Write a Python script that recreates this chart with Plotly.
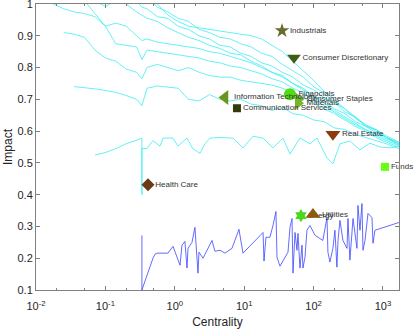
import plotly.graph_objects as go

# --- data --------------------------------------------------------------
# shared centrality grid for the upper cyan curves
centrality_grid = [0.0178, 0.0251, 0.0355, 0.0501, 0.0708, 0.1, 0.141, 0.2, 0.282, 0.336,
                   0.398, 0.562, 0.794, 1.12, 1.58, 2.24, 3.16, 4.47, 6.31, 8.91,
                   12.6, 17.8, 25.1, 35.5, 50.1, 70.8, 100, 141, 200, 282,
                   398, 562, 794, 1122, 1700]

N = None
curve_a = [N, N, N, N, N, N, N, N, N, N,
           1.02, 0.99, 0.975, 0.955, 0.945, 0.92, 0.91, 0.895, 0.89, 0.875,
           0.865, 0.845, 0.835, 0.81, 0.79, 0.77, 0.74, 0.72, 0.69, 0.67,
           0.645, 0.62, 0.605, 0.585, 0.565]
curve_b = [N, N, N, N, N, N, N, N, 1.01, 0.99,
           0.985, 0.96, 0.955, 0.93, 0.92, 0.90, 0.89, 0.87, 0.865, 0.845,
           0.835, 0.815, 0.805, 0.785, 0.77, 0.745, 0.73, 0.705, 0.69, 0.66,
           0.645, 0.615, 0.605, 0.58, 0.56]
curve_c = [N, N, N, N, 1.01, 0.992, 1.01, 1.0, 0.975, 0.965,
           0.955, 0.945, 0.925, 0.91, 0.895, 0.885, 0.87, 0.86, 0.845, 0.84,
           0.82, 0.805, 0.785, 0.775, 0.75, 0.735, 0.71, 0.695, 0.67, 0.655,
           0.63, 0.615, 0.595, 0.58, 0.555]
curve_d = [N, N, N, N, N, N, N, N, N, N,
           N, 1.0, 0.965, 0.945, 0.93, 0.925, 0.92, 0.915, 0.91, 0.905,
           0.9, 0.89, 0.87, 0.85, 0.82, 0.79, 0.76, 0.725, 0.70, 0.67,
           0.64, 0.62, 0.60, 0.58, 0.565]
curve_e = [1.0, 0.985, 0.975, 0.97, 0.96, 0.93, 0.94, 0.93, 0.9, 0.885,
           0.89, 0.88, 0.875, 0.87, 0.865, 0.86, 0.85, 0.845, 0.835, 0.825,
           0.815, 0.80, 0.785, 0.77, 0.75, 0.73, 0.71, 0.69, 0.665, 0.645,
           0.625, 0.605, 0.59, 0.575, 0.56]
curve_f = [N, N, N, 1.01, 0.97, 0.93, 0.875, 0.87, 0.865, 0.825,
           0.855, 0.85, 0.845, 0.84, 0.835, 0.83, 0.82, 0.815, 0.805, 0.80,
           0.79, 0.78, 0.765, 0.755, 0.735, 0.72, 0.70, 0.68, 0.66, 0.64,
           0.62, 0.605, 0.585, 0.57, 0.555]
curve_g = [N, 0.91, 0.905, 0.895, 0.855, 0.83, 0.82, 0.795, 0.785, 0.765,
           0.80, 0.81, 0.80, 0.79, 0.80, 0.785, 0.775, 0.77, 0.77, 0.76,
           0.755, 0.75, 0.745, 0.735, 0.72, 0.705, 0.69, 0.67, 0.655, 0.635,
           0.615, 0.60, 0.58, 0.565, 0.55]
curve_i = [N, N, 0.74, 0.737, 0.733, 0.728, 0.722, 0.712, 0.70, 0.68,
           0.735, 0.742, 0.738, 0.735, 0.70, 0.695, 0.715, 0.70, 0.695, 0.70,
           0.685, 0.68, 0.665, 0.675, 0.655, 0.65, 0.635, 0.63, 0.61, 0.605,
           0.59, 0.58, 0.57, 0.56, 0.545]
upper_curves = [curve_a, curve_b, curve_c, curve_d, curve_e, curve_f, curve_g, curve_i]

# lowest cyan curve
low_x = [0.0708, 0.0987, 0.142, 0.198, 0.285, 0.336, 0.336, 0.336, 0.397, 0.485,
         0.612, 0.676, 0.942, 1.11, 1.50, 1.83, 2.31, 2.72, 3.22, 4.48,
         6.90, 9.62, 13.4, 18.7, 26.0, 36.2, 45.7, 63.7, 88.7, 112,
         156, 190, 240, 334, 466, 650, 906, 1262, 1702]
low_y = [0.525, 0.532, 0.545, 0.56, 0.572, 0.578, 0.40, 0.545, 0.545, 0.57,
         0.553, 0.578, 0.578, 0.553, 0.578, 0.544, 0.53, 0.56, 0.578, 0.58,
         0.578, 0.547, 0.584, 0.578, 0.547, 0.578, 0.528, 0.578, 0.56, 0.578,
         0.516, 0.497, 0.56, 0.569, 0.541, 0.562, 0.55, 0.547, 0.553]

# blue curve
blue_x = [0.336, 0.336, 0.485, 0.519, 0.555, 0.798, 0.942, 1.19, 1.27, 1.40,
          1.50, 1.55, 1.77, 1.95, 2.16, 2.23, 2.55, 3.44, 3.79, 4.48,
          5.29, 6.67, 8.41, 9.62, 18.7, 19.3, 20.6, 23.5, 26.0, 28.7,
          29.7, 32.8, 42.8, 45.7, 48.9, 50.5, 54.0, 57.7, 59.6, 63.7,
          68.1, 70.3, 75.2, 80.3, 88.7, 105, 136, 156, 161, 172,
          190, 203, 217, 225, 240, 265, 303, 313, 334, 370,
          422, 436, 466, 498, 515, 551, 608, 694, 718, 767,
          1702]
blue_y = [0.272, 0.1, 0.2, 0.2125, 0.216, 0.216, 0.2375, 0.178, 0.241, 0.253,
          0.169, 0.231, 0.25, 0.297, 0.153, 0.219, 0.2, 0.256, 0.222, 0.225,
          0.216, 0.231, 0.291, 0.216, 0.281, 0.191, 0.266, 0.266, 0.303, 0.347,
          0.203, 0.175, 0.219, 0.297, 0.325, 0.153, 0.281, 0.225, 0.278, 0.169,
          0.241, 0.169, 0.203, 0.288, 0.303, 0.272, 0.256, 0.328, 0.219, 0.188,
          0.231, 0.288, 0.172, 0.256, 0.319, 0.256, 0.231, 0.325, 0.194, 0.325,
          0.231, 0.366, 0.288, 0.372, 0.225, 0.256, 0.341, 0.328, 0.247, 0.288,
          0.3125]

# sectors
sectors = ["Industrials", "Consumer Discretionary", "Financials", "Consumer Staples",
           "Materials", "Information Technology", "Communication Services",
           "Real Estate", "Funds", "Health Care", "Energy", "Utilities"]
sector_centrality = [35.1, 52.2, 45.7, 60.5, 59.6, 5.29, 7.87, 190, 1069, 0.411, 65.8, 98]
sector_impact = [0.916, 0.831, 0.716, 0.700, 0.6875, 0.706, 0.672, 0.59, 0.4875, 0.431, 0.334, 0.3375]
sector_symbols = ["star", "triangle-down", "circle", "triangle-right", "triangle-right",
                  "triangle-left", "square", "triangle-down", "square", "diamond",
                  "hexagram", "triangle-up"]
sector_colors = ["#6b6a2c", "#3d5e16", "#4fdc12", "#74b52a", "#74b52a", "#6a951f",
                 "#333a0c", "#8c3b0c", "#66ff14", "#6a3a12", "#49d81a", "#8c5a0e"]
sector_sizes = [11, 12, 12, 12, 12, 13, 8, 13, 8, 10, 10, 13]

x_tickvals = [0.01, 0.1, 1, 10, 100, 1000]
x_ticktext = ["10<sup>-2</sup>", "10<sup>-1</sup>", "10<sup>0</sup>",
              "10<sup>1</sup>", "10<sup>2</sup>", "10<sup>3</sup>"]
y_tickvals = [0.1, 0.2, 0.3, 0.4, 0.5, 0.6, 0.7, 0.8, 0.9, 1.0]
y_ticktext = ["0.1", "0.2", "0.3", "0.4", "0.5", "0.6", "0.7", "0.8", "0.9", "1"]

# --- figure -----------------------------------------------------------
fig = go.Figure()

for ys in upper_curves:
    fig.add_trace(go.Scatter(x=centrality_grid, y=ys, mode="lines",
                             line=dict(color="rgb(60,238,242)", width=0.8),
                             connectgaps=False, hoverinfo="skip"))

fig.add_trace(go.Scatter(x=low_x, y=low_y, mode="lines",
                         line=dict(color="rgb(60,238,242)", width=0.8)))
fig.add_trace(go.Scatter(x=blue_x, y=blue_y, mode="lines",
                         line=dict(color="rgb(60,70,255)", width=0.8)))

for name, cx, cy, sym, col, sz in zip(sectors, sector_centrality, sector_impact,
                                      sector_symbols, sector_colors, sector_sizes):
    fig.add_trace(go.Scatter(
        x=[cx], y=[cy], mode="markers+text", text=[name],
        textposition="middle right", cliponaxis=False,
        textfont=dict(family="Liberation Sans, Arial", size=8, color="#333333"),
        marker=dict(symbol=sym, size=sz, color=col, line=dict(width=0)),
    ))

axis_common = dict(
    showline=True, linecolor="#808080", linewidth=1, mirror="allticks",
    ticks="inside", ticklen=4, tickcolor="#808080", showgrid=False, zeroline=False,
    automargin=False, ticklabeloverflow="allow",
    tickfont=dict(family="Liberation Sans, Arial", size=11, color="#262626"),
)

fig.update_xaxes(type="log", range=[-2, 3.231], tickvals=x_tickvals, ticktext=x_ticktext,
                 ticklabelstandoff=6,
                 minor=dict(ticks="inside", ticklen=2, tickcolor="#808080", showgrid=False),
                 title=dict(text="Centrality", standoff=6,
                            font=dict(family="Liberation Sans, Arial", size=12, color="#262626")),
                 **axis_common)
fig.update_yaxes(range=[0.1, 1], tickvals=y_tickvals, ticktext=y_ticktext,
                 title=dict(text="Impact", standoff=2,
                            font=dict(family="Liberation Sans, Arial", size=12, color="#262626")),
                 **axis_common)

fig.update_layout(width=415, height=329, showlegend=False,
                  margin=dict(l=36, r=16, t=4, b=39),
                  paper_bgcolor="white", plot_bgcolor="white")

# drop the page's default body margin so the figure sits at the window's corner
fig.write_html("out.html", config={"displayModeBar": False},
               post_script="document.body.style.margin='0';")
